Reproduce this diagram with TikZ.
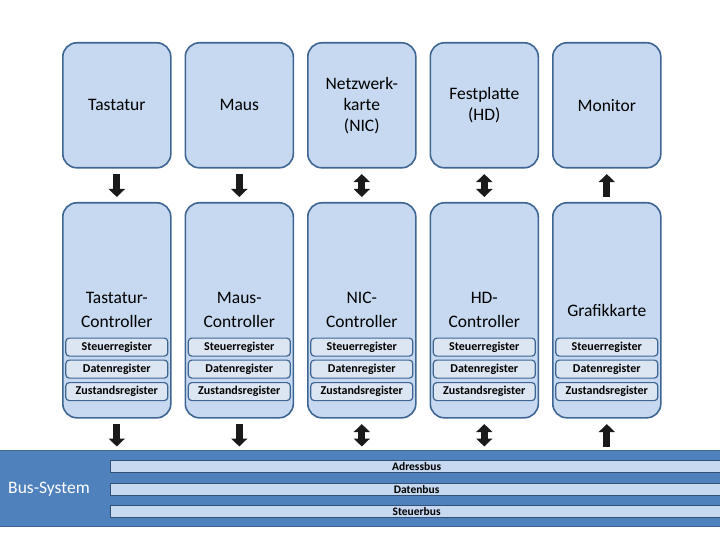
\documentclass[tikz,border=0pt]{standalone}
\usepackage{fontspec}
\setmainfont{Carlito}
\usetikzlibrary{arrows.meta,calc}
\definecolor{boxfill}{HTML}{C6D9F1}
\definecolor{boxline}{HTML}{3F6593}
\definecolor{regfill}{HTML}{DCE6F2}
\definecolor{busbg}{HTML}{4F81BD}
\definecolor{arrowc}{HTML}{1A1A1A}
\tikzset{
  devbox/.style={draw=boxline, line width=1.6pt, fill=boxfill, rounded corners=14pt,
    minimum width=108pt, minimum height=125pt, align=center, font=\fontsize{17.5}{21}\selectfont, inner sep=0pt},
  ctrlbox/.style={devbox, minimum height=215pt, font=\fontsize{17.5}{24}\selectfont},
  regbox/.style={draw=boxline, line width=1.2pt, fill=regfill, rounded corners=3.5pt,
    minimum width=102pt, minimum height=18pt, inner sep=0pt, font=\fontsize{12}{14}\bfseries\selectfont},
  busbar/.style={draw=boxline!80!black, line width=1.2pt, fill=boxfill, minimum height=12pt,
    inner sep=0pt, font=\fontsize{11.5}{12}\bfseries\selectfont},
  blk/.style={draw=arrowc, line width=7pt},
  dn/.style={blk, -{Triangle[width=16pt,length=8pt]}},
  up/.style={blk, {Triangle[width=16pt,length=8pt]}-},
  bi/.style={blk, {Triangle[width=16pt,length=8pt]}-{Triangle[width=16pt,length=8pt]}}
}
\begin{document}
\begin{tikzpicture}[x=1pt,y=-1pt]
\useasboundingbox (0,0) rectangle (720,540);
% bus
\node[fill=busbg, draw=boxline, line width=1pt, minimum width=722pt, minimum height=76pt, inner sep=0pt, anchor=north west] (bus) at (-1,450) {};
\node[text=white, font=\fontsize{17.5}{21}\selectfont] (bustxt) at (49,489) {Bus-System};
\node[busbar, anchor=north west, minimum width=612pt] (adr) at (110,459.5) {Adressbus};
\node[busbar, anchor=north west, minimum width=612pt] (dat) at (110,482.5) {Datenbus};
\node[busbar, anchor=north west, minimum width=612pt] (ste) at (110,504.5) {Steuerbus};
% columns
\foreach \i/\x/\dev/\ctl/\ta/\tb in {
  1/62/{Tastatur}/{Tastatur-\\Controller}/dn/dn,
  2/184.5/{Maus}/{Maus-\\Controller}/dn/dn,
  3/307/{Netzwerk-\\karte\\(NIC)}/{NIC-\\Controller}/bi/bi,
  4/429.5/{Festplatte\\(HD)}/{HD-\\Controller}/bi/bi,
  5/552/{Monitor}/{Grafikkarte}/up/up} {
  \node[devbox, anchor=north west] (d\i) at (\x,42) {\dev};
  \node[ctrlbox, anchor=north west] (c\i) at (\x,202) {\ctl};
  \node[regbox, anchor=north] (s\i) at ($(c\i.north)+(0,135.5)$) {Steuerregister};
  \node[regbox, anchor=north] (r\i) at ($(c\i.north)+(0,157.5)$) {Datenregister};
  \node[regbox, anchor=north] (z\i) at ($(c\i.north)+(0,180)$) {Zustandsregister};
  \draw[\ta, shorten <=5.5pt, shorten >=5pt] (d\i.south) -- (c\i.north);
  \draw[\tb, shorten <=5.5pt, shorten >=3.5pt] (c\i.south) -- (c\i.south |- bus.north);
}
\end{tikzpicture}
\end{document}
